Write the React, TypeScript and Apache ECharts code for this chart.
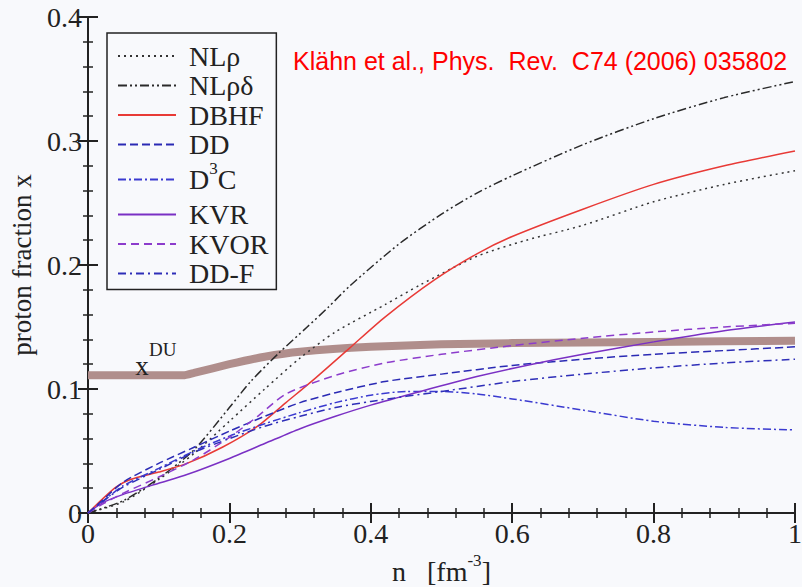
import React, { useEffect, useRef } from "react";
import * as echarts from "echarts";

// ---- data (x = n [fm^-3], y = proton fraction) ----
const nlRho: [number, number][] = [
  [0, 0], [0.05, 0.009], [0.1, 0.027], [0.15, 0.048], [0.2, 0.074], [0.25, 0.1], [0.3, 0.125],
  [0.35, 0.146], [0.42, 0.168], [0.47, 0.184], [0.55, 0.207], [0.62, 0.22], [0.7, 0.232],
  [0.8, 0.251], [0.9, 0.265], [1.0, 0.276],
];
const nlRhoDelta: [number, number][] = [
  [0, 0], [0.05, 0.01], [0.1, 0.028], [0.15, 0.051], [0.2, 0.085], [0.23, 0.106], [0.27, 0.129],
  [0.31, 0.15], [0.34, 0.166], [0.37, 0.183], [0.44, 0.217], [0.5, 0.241], [0.55, 0.258],
  [0.6, 0.272], [0.7, 0.297], [0.8, 0.318], [0.9, 0.335], [1.0, 0.348],
];
const dbhf: [number, number][] = [
  [0, 0], [0.02, 0.011], [0.04, 0.021], [0.06, 0.027], [0.1, 0.033], [0.14, 0.04], [0.19, 0.053],
  [0.24, 0.07], [0.28, 0.089], [0.32, 0.108], [0.37, 0.133], [0.42, 0.158], [0.49, 0.188],
  [0.55, 0.209], [0.6, 0.223], [0.7, 0.245], [0.8, 0.265], [0.9, 0.28], [1.0, 0.292],
];
const dd: [number, number][] = [
  [0, 0], [0.02, 0.01], [0.05, 0.025], [0.1, 0.04], [0.15, 0.053], [0.2, 0.066], [0.25, 0.078],
  [0.3, 0.089], [0.35, 0.097], [0.42, 0.106], [0.5, 0.112], [0.6, 0.119], [0.7, 0.124],
  [0.8, 0.128], [0.9, 0.131], [1.0, 0.134],
];
const d3c: [number, number][] = [
  [0, 0], [0.02, 0.009], [0.05, 0.022], [0.1, 0.036], [0.15, 0.05], [0.2, 0.062], [0.25, 0.072],
  [0.3, 0.081], [0.35, 0.089], [0.4, 0.095], [0.45, 0.098], [0.5, 0.098], [0.55, 0.096],
  [0.6, 0.092], [0.7, 0.083], [0.8, 0.074], [0.9, 0.069], [1.0, 0.067],
];
const kvr: [number, number][] = [
  [0, 0], [0.02, 0.008], [0.05, 0.015], [0.1, 0.024], [0.14, 0.031], [0.2, 0.044], [0.25, 0.056],
  [0.3, 0.068], [0.35, 0.078], [0.4, 0.087], [0.47, 0.098], [0.55, 0.11], [0.62, 0.119],
  [0.7, 0.128], [0.8, 0.138], [0.9, 0.147], [1.0, 0.154],
];
const kvor: [number, number][] = [
  [0, 0], [0.02, 0.007], [0.05, 0.016], [0.1, 0.029], [0.15, 0.043], [0.2, 0.061], [0.24, 0.078],
  [0.28, 0.096], [0.35, 0.111], [0.42, 0.121], [0.5, 0.128], [0.6, 0.135], [0.7, 0.141],
  [0.8, 0.146], [0.9, 0.15], [1.0, 0.153],
];
const ddf: [number, number][] = [
  [0, 0], [0.02, 0.009], [0.05, 0.021], [0.1, 0.035], [0.15, 0.049], [0.2, 0.06], [0.25, 0.07],
  [0.3, 0.078], [0.35, 0.085], [0.4, 0.09], [0.5, 0.098], [0.6, 0.106], [0.7, 0.112],
  [0.8, 0.117], [0.9, 0.121], [1.0, 0.124],
];
const xDU: [number, number][] = [
  [0, 0.111], [0.135, 0.111], [0.15, 0.113], [0.2, 0.12], [0.25, 0.126], [0.3, 0.13],
  [0.4, 0.134], [0.5, 0.136], [0.6, 0.137], [0.8, 0.138], [1.0, 0.139],
];

const xTicks = [0, 0.2, 0.4, 0.6, 0.8, 1];
const yTicks = [0, 0.1, 0.2, 0.3, 0.4];

const SERIF = "'Liberation Serif', 'Times New Roman', serif";
const SANS = "'Liberation Sans', Arial, sans-serif";

export default function App() {
  const ref = useRef<HTMLDivElement>(null);
  useEffect(() => {
    if (!ref.current) return;
    const chart = echarts.init(ref.current, undefined, { renderer: "svg" });
    const fmt = (v: number) => String(parseFloat(v.toFixed(2)));
    const axisCommon = {
      type: "value" as const,
      axisLine: { show: true, lineStyle: { color: "#222", width: 2 } },
      axisTick: { show: true, inside: true, length: 10, lineStyle: { color: "#222", width: 2 } },
      minorTick: { show: true, splitNumber: 5, length: 5, lineStyle: { color: "#222", width: 1.5 } },
      splitLine: { show: false },
    };
    const line = (
      name: string,
      data: [number, number][],
      color: string,
      type: any,
      width = 1.5
    ) => ({
      name,
      type: "line",
      data,
      smooth: 0.25,
      symbol: "none",
      lineStyle: { color, width, type },
      itemStyle: { color },
      z: 3,
    });
    chart.setOption({
      animation: false,
      backgroundColor: "#f8f9fc",
      grid: { left: 88, right: 7, top: 17, bottom: 74, containLabel: false, outerBoundsMode: "none" },
      xAxis: [
        {
          ...axisCommon,
          min: xTicks[0],
          max: xTicks[xTicks.length - 1],
          interval: 0.2,
          axisLabel: {
            color: "#222",
            fontFamily: SERIF,
            fontSize: 28,
            margin: 6,
            formatter: fmt,
          },
          name: "{a|n   [fm}{s|-3}{a|]}",
          nameLocation: "middle",
          nameGap: 39,
          nameTextStyle: {
            rich: {
              a: { fontFamily: SERIF, fontSize: 28, color: "#222", lineHeight: 30, verticalAlign: "bottom" },
              s: { fontFamily: SERIF, fontSize: 17, color: "#222", lineHeight: 14, padding: [0, 0, 20, 0] },
            },
          },
        },
        {
          ...axisCommon,
          position: "top",
          min: xTicks[0],
          max: xTicks[xTicks.length - 1],
          interval: 0.2,
          axisLabel: { show: false },
        },
      ],
      yAxis: [
        {
          ...axisCommon,
          min: yTicks[0],
          max: yTicks[yTicks.length - 1],
          interval: 0.1,
          axisLabel: {
            color: "#222",
            fontFamily: SERIF,
            fontSize: 28,
            margin: 6,
            formatter: fmt,
          },
          name: "proton fraction x",
          nameLocation: "middle",
          nameRotate: 90,
          nameGap: 53,
          nameTextStyle: { fontFamily: SERIF, fontSize: 27, color: "#222" },
        },
        {
          ...axisCommon,
          position: "right",
          min: yTicks[0],
          max: yTicks[yTicks.length - 1],
          interval: 0.1,
          axisLabel: { show: false },
        },
      ],
      legend: {
        orient: "vertical",
        left: 107,
        top: 33,
        width: 175,
        padding: [9, 8, 2, 10],
        itemWidth: 58,
        itemHeight: 14,
        itemGap: 1.5,
        borderColor: "#222",
        borderWidth: 1.5,
        backgroundColor: "#f8f9fc",
        itemStyle: { opacity: 0 },
        data: ["NLρ", "NLρδ", "DBHF", "DD", "D3C", "KVR", "KVOR", "DD-F"],
        formatter: (n: string) => (n === "D3C" ? "{b|D}{s|3}{b|C}" : "{a|" + n + "}"),
        textStyle: {
          padding: [0, 0, 0, 8],
          rich: {
            a: { fontFamily: SERIF, fontSize: 28, color: "#222", lineHeight: 28 },
            b: { fontFamily: SERIF, fontSize: 28, color: "#222", lineHeight: 28 },
            s: { fontFamily: SERIF, fontSize: 17, color: "#222", lineHeight: 12, padding: [0, 0, 22, 0] },
          },
        },
      },
      graphic: [
        {
          type: "text",
          left: 293,
          top: 48,
          style: {
            text: "Klähn et al., Phys.  Rev.  C74 (2006) 035802",
            fontFamily: SANS,
            fontSize: 25,
            fill: "#ff0000",
          },
          z: 10,
        },
        {
          type: "text",
          x: 142,
          y: 366,
          style: {
            text: "x",
            fontFamily: SERIF,
            fontSize: 27,
            fill: "#222",
            align: "center",
            verticalAlign: "middle",
          },
          z: 10,
        },
        {
          type: "text",
          x: 149,
          y: 349,
          style: {
            text: "DU",
            fontFamily: SERIF,
            fontSize: 19,
            fill: "#222",
            align: "left",
            verticalAlign: "middle",
          },
          z: 10,
        },
      ],
      series: [
        { ...line("xDU", xDU, "#b08e8c", "solid", 8), z: 2, smooth: 0.15 },
        line("NLρ", nlRho, "#333333", [2, 4]),
        line("NLρδ", nlRhoDelta, "#2a2a2a", [9, 3, 2, 3, 2, 3]),
        line("DBHF", dbhf, "#e83a36", "solid"),
        line("DD", dd, "#2a2ab4", [8, 4]),
        line("D3C", d3c, "#3a3ad0", [8, 3, 2, 3]),
        line("KVR", kvr, "#7a30c4", "solid"),
        line("KVOR", kvor, "#8c3ccc", [8, 5]),
        line("DD-F", ddf, "#2e2eb8", [8, 4, 2, 4]),
      ],
    });
    return () => chart.dispose();
  }, []);
  return (
    <div
      ref={ref}
      style={{ position: "fixed", left: 0, top: 0, width: 802, height: 587 }}
    />
  );
}
